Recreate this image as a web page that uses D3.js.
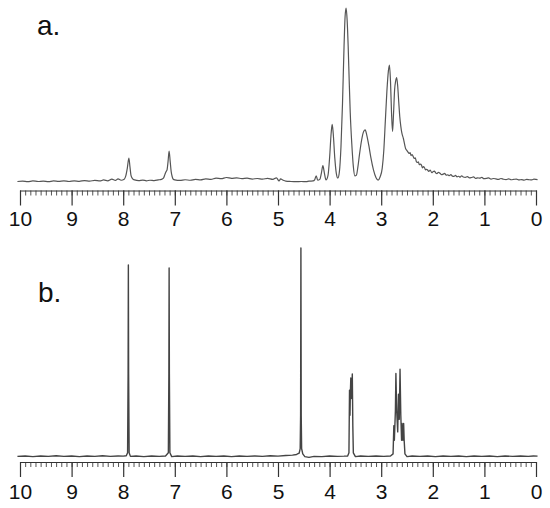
<!DOCTYPE html>
<html>
<head>
<meta charset="utf-8">
<script src="https://cdn.jsdelivr.net/npm/d3@7"></script>
<style>
  html, body { margin: 0; padding: 0; background: #fff; }
  svg { display: block; }
</style>
</head>
<body>
<svg id="chart" width="550" height="508"></svg>
<script>
// ---- data ----
const panelLabels = ["a.", "b."];
const axisTicks = [10, 9, 8, 7, 6, 5, 4, 3, 2, 1, 0];

// spectrum a: [ppm, intensity (a.u., main peak = 100)]
const spectrumA = [
  [10.05,0.3],[9.95,0.5],[9.85,0.2],[9.75,0.6],[9.65,0.3],[9.55,0.5],[9.45,0.2],[9.35,0.6],
  [9.25,0.4],[9.15,0.7],[9.05,0.3],[8.95,0.6],[8.85,0.4],[8.75,0.8],[8.65,0.5],[8.55,0.9],
  [8.45,0.6],[8.38,1.2],[8.30,0.7],[8.22,1.6],[8.15,0.9],[8.10,1.8],[8.04,1.0],[7.98,1.6],
  [7.95,3.5],[7.92,8],[7.89,13.8],[7.87,9],[7.85,4],[7.82,2],[7.78,1.2],[7.70,0.8],
  [7.62,1.1],[7.55,0.7],[7.48,1.0],[7.40,0.8],[7.32,1.2],[7.26,1.5],[7.22,2.2],[7.19,4.5],
  [7.17,5.9],[7.15,7],[7.13,12],[7.11,17.8],[7.09,12],[7.07,6],[7.05,3],[7.03,1.6],
  [7.00,1.2],[6.90,0.9],[6.80,1.3],[6.70,1.0],[6.60,1.5],[6.50,1.2],[6.40,1.8],[6.30,1.5],
  [6.20,2.2],[6.10,1.9],[6.00,2.6],[5.90,2.1],[5.80,2.4],[5.70,1.9],[5.60,2.2],[5.50,1.7],
  [5.40,2.0],[5.30,1.6],[5.20,2.1],[5.10,1.5],[5.03,2.4],[4.98,0.6],[4.95,1.8],[4.90,1.0],
  [4.85,0.5],[4.75,0.3],[4.65,0.2],[4.55,0.3],[4.45,0.2],[4.40,0.5],[4.32,0.6],[4.29,1.2],
  [4.26,3.6],[4.23,1.0],[4.19,1.5],[4.16,5],[4.13,9.4],[4.10,5],[4.07,1.2],[4.03,4],
  [4.00,14],[3.97,28],[3.95,33.2],[3.93,28],[3.90,14],[3.87,5],[3.84,2.3],[3.81,6],
  [3.78,20],[3.75,45],[3.72,78],[3.70,95],[3.68,100],[3.66,93],[3.64,78],[3.62,58],
  [3.60,40],[3.57,22],[3.54,9],[3.51,3.5],[3.48,4],[3.45,9],[3.42,16],[3.38,24],
  [3.34,29],[3.31,29.9],[3.28,27],[3.24,21],[3.20,14],[3.15,7],[3.10,2.5],[3.06,1.1],
  [3.02,3],[2.98,8],[2.95,18],[2.92,35],[2.89,52],[2.86,64],[2.84,67.2],[2.82,58],
  [2.80,40],[2.78,29],[2.76,40],[2.74,53],[2.72,58],[2.70,60],[2.68,55],[2.66,46],
  [2.64,37.5],[2.62,32],[2.60,28.2],[2.57,25],[2.53,19.5],[2.50,18],[2.48,17.2],[2.46,16.4],
  [2.44,16.9],[2.42,15.2],[2.40,15.8],[2.38,14.6],[2.36,13.5],[2.34,13.9],[2.32,11.8],[2.30,11.2],
  [2.28,11.6],[2.26,9.9],[2.24,10.3],[2.22,9.7],[2.20,8.1],[2.18,8.9],[2.16,8.2],[2.14,7.0],
  [2.12,7.3],[2.10,6.9],[2.08,6.1],[2.05,6.8],[2.02,5.4],[2.00,5.8],[1.97,6.3],[1.94,5.1],
  [1.92,4.8],[1.89,5.6],[1.86,5.0],[1.83,4.2],[1.80,4.5],[1.77,4.9],[1.74,3.9],[1.71,4.1],
  [1.68,3.6],[1.65,4.3],[1.62,3.4],[1.59,3.2],[1.56,3.8],[1.53,3.0],[1.50,3.3],[1.47,2.8],
  [1.44,3.6],[1.41,2.9],[1.37,2.7],[1.33,3.1],[1.29,2.4],[1.25,2.6],[1.21,2.9],[1.17,2.1],
  [1.13,2.4],[1.09,2.2],[1.05,2.7],[1.01,1.9],[0.96,2.1],[0.92,2.4],[0.87,1.7],[0.82,2.0],
  [0.78,1.8],[0.73,1.5],[0.68,2.0],[0.63,1.6],[0.58,1.4],[0.53,1.8],[0.48,1.3],[0.43,1.5],
  [0.38,1.7],[0.33,1.2],[0.28,1.4],[0.23,1.1],[0.18,1.5],[0.13,1.3],[0.08,1.2],[0.04,1.6],
  [-0.03,1.4]
];

// spectrum b: [ppm, intensity (a.u., tallest line = 100)]
const spectrumB = [
  [10.05,0.3],[9.90,0.5],[9.75,0.2],[9.60,0.5],[9.45,0.3],[9.30,0.6],[9.15,0.3],[9.00,0.5],
  [8.85,0.2],[8.70,0.5],[8.55,0.3],[8.40,0.6],[8.25,0.3],[8.10,0.5],[8.00,0.4],[7.94,0.6],
  [7.915,2],[7.905,40],[7.900,91.9],[7.895,40],[7.885,2],[7.86,0.3],[7.75,0.5],[7.60,0.2],
  [7.45,0.5],[7.30,0.3],[7.18,0.5],[7.125,2],[7.115,40],[7.110,90.4],[7.105,40],[7.095,2],
  [7.06,0.2],[6.95,0.5],[6.80,0.3],[6.65,0.5],[6.50,0.2],[6.35,0.5],[6.20,0.3],[6.05,0.5],
  [5.90,0.2],[5.75,0.5],[5.60,0.3],[5.45,0.5],[5.30,0.3],[5.15,0.6],[5.00,0.4],[4.85,0.7],
  [4.72,0.9],[4.64,1.2],[4.59,1.8],[4.57,4],[4.562,20],[4.556,100],[4.550,20],[4.542,4],
  [4.52,1.5],[4.48,0.2],[4.40,-0.2],[4.30,0.3],[4.15,0.2],[4.00,0.5],[3.85,0.3],[3.72,0.4],
  [3.65,0.5],[3.625,2],[3.614,32],[3.605,20],[3.598,30],[3.589,37.8],[3.580,28],[3.570,30],
  [3.560,39.7],[3.550,15],[3.540,2],[3.50,0.2],[3.40,0.5],[3.25,0.3],[3.10,0.5],[2.95,0.3],
  [2.82,0.5],[2.77,1.5],[2.755,15],[2.745,8],[2.725,22],[2.715,40],[2.700,22],[2.680,12],
  [2.665,30],[2.650,18],[2.635,42],[2.620,20],[2.605,8],[2.595,16],[2.580,8],[2.565,16],
  [2.555,8],[2.540,1.5],[2.50,0.2],[2.40,0.5],[2.25,0.3],[2.10,0.5],[1.95,0.2],[1.80,0.5],
  [1.65,0.3],[1.50,0.5],[1.35,0.2],[1.20,0.5],[1.05,0.3],[0.90,0.5],[0.75,0.2],[0.60,0.5],
  [0.45,0.3],[0.30,0.5],[0.15,0.3],[0.05,0.5],[-0.03,0.4]
];

// ---- drawing ----
const svg = d3.select("#chart");
const x = d3.scaleLinear().domain([10, 0]).range([20, 536]);

const panels = [
  { label: panelLabels[0], data: spectrumA, base: 182, top: 8, axisY: 190.5, labelX: 37, labelY: 35, pad: 6, stroke: "#555", sw: 1.2, curve: d3.curveMonotoneX },
  { label: panelLabels[1], data: spectrumB, base: 457, top: 248, axisY: 462, labelX: 38, labelY: 302, pad: 7, stroke: "#444", sw: 1.4, curve: d3.curveLinear }
];

panels.forEach(p => {
  const y = d3.scaleLinear().domain([0, 100]).range([p.base, p.top]);
  const line = d3.line()
    .x(d => x(d[0]))
    .y(d => y(d[1]))
    .curve(p.curve);

  svg.append("path")
    .datum(p.data)
    .attr("fill", "none")
    .attr("stroke", p.stroke)
    .attr("stroke-width", p.sw)
    .attr("stroke-linejoin", "round")
    .attr("d", line);

  // minor ticks
  const minor = svg.append("g")
    .attr("transform", `translate(0,${p.axisY})`)
    .call(d3.axisBottom(x).tickValues(d3.range(0, 101).map(i => i / 10)).tickSize(5).tickFormat(""));
  minor.select(".domain").remove();
  minor.selectAll("line").attr("stroke", "#555").attr("stroke-width", 1);

  // major axis
  const major = svg.append("g")
    .attr("transform", `translate(0,${p.axisY})`)
    .call(d3.axisBottom(x).tickValues(axisTicks).tickSize(15).tickSizeOuter(0).tickPadding(p.pad).tickFormat(d3.format("d")));
  major.select(".domain").attr("stroke", "#333").attr("stroke-width", 1.2);
  major.selectAll(".tick line").attr("stroke", "#333").attr("stroke-width", 1.2);
  major.selectAll(".tick text")
    .attr("fill", "#111")
    .style("font-family", "'Liberation Sans', Arial, sans-serif")
    .style("font-size", "21px");

  svg.append("text")
    .attr("x", p.labelX)
    .attr("y", p.labelY)
    .attr("fill", "#111")
    .style("font-family", "'Liberation Sans', Arial, sans-serif")
    .style("font-size", "28px")
    .text(p.label);
});
</script>
</body>
</html>
